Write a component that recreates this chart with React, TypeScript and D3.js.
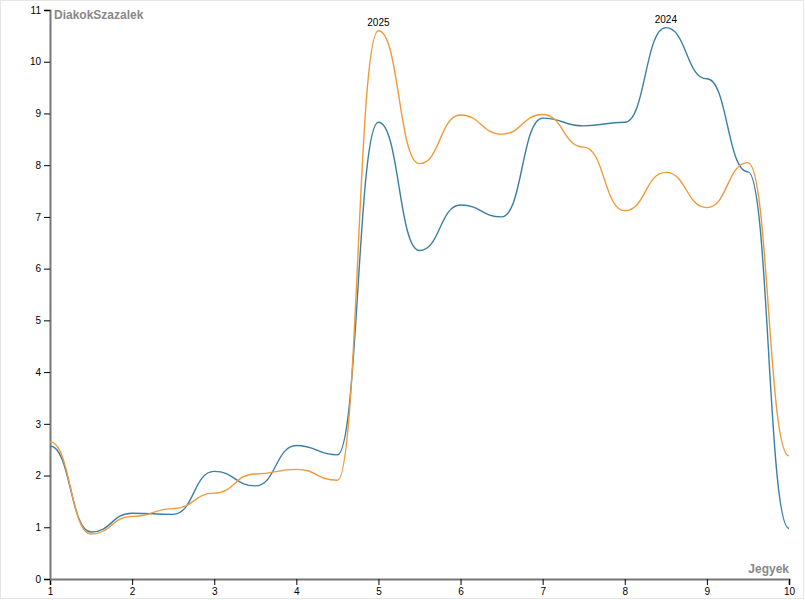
import React, { useEffect, useRef } from "react";
import * as d3 from "d3";

const grades = [1, 1.5, 2, 2.5, 3, 3.5, 4, 4.5, 5, 5.5, 6, 6.5, 7, 7.5, 8, 8.5, 9, 9.5, 10];
const series2024 = [2.57, 0.91, 1.27, 1.25, 2.08, 1.8, 2.58, 2.4, 8.83, 6.35, 7.23, 7.0, 8.91, 8.76, 8.83, 10.66, 9.67, 7.87, 0.98];
const series2025 = [2.65, 0.87, 1.21, 1.36, 1.66, 2.03, 2.12, 1.91, 10.6, 8.03, 8.97, 8.6, 8.98, 8.35, 7.12, 7.86, 7.18, 8.05, 2.38];
const xTicks = [1, 2, 3, 4, 5, 6, 7, 8, 9, 10];
const yTicks = [0, 1, 2, 3, 4, 5, 6, 7, 8, 9, 10, 11];
const seriesNames = ["2024", "2025"];
const xLabel = "Jegyek";
const yLabel = "DiakokSzazalek";

const W = 805;
const H = 600;
const M = { left: 50, right: 16, top: 10, bottom: 21 };

export default function App() {
  const ref = useRef<SVGSVGElement>(null);
  useEffect(() => {
    const svg = d3.select(ref.current);
    svg.selectAll("*").remove();
    svg.append("rect").attr("x", 0.5).attr("y", 0.5).attr("width", 803).attr("height", 598)
      .attr("fill", "white").attr("stroke", "#e6e6e6");
    const x = d3.scaleLinear().domain([1, 10]).range([M.left, W - M.right]);
    const y = d3.scaleLinear().domain([0, 11]).range([H - M.bottom, M.top]);

    const xa = svg.append("g").attr("transform", `translate(0,${H - M.bottom})`)
      .call(d3.axisBottom(x).tickValues(xTicks).tickSize(6).tickFormat(d3.format("d")));
    const ya = svg.append("g").attr("transform", `translate(${M.left},0)`)
      .call(d3.axisLeft(y).tickValues(yTicks).tickSize(6).tickFormat(d3.format("d")));
    [xa, ya].forEach((a) => {
      a.select(".domain").attr("stroke", "#777").attr("stroke-width", 2);
      a.selectAll(".tick line").attr("stroke", "#000");
      a.selectAll(".tick text").attr("font-family", "Liberation Sans, Arial, sans-serif").attr("font-size", 10).attr("fill", "#000");
    });
    xa.selectAll(".tick text").attr("dy", "0.71em").attr("y", 9);

    const line = d3.line<number>().x((_, i) => x(grades[i])).y((d) => y(d)).curve(d3.curveBumpX);
    const data = [series2024, series2025];
    const colors = ["#3b7fa4", "#f0993a"];
    data.forEach((s, k) => {
      svg.append("path").attr("d", line(s)).attr("fill", "none").attr("stroke", colors[k]).attr("stroke-width", 1.4);
    });
    data.forEach((s, k) => {
      const mi = d3.maxIndex(s);
      svg.append("text").attr("x", x(grades[mi])).attr("y", y(s[mi]) - 5)
        .attr("text-anchor", "middle").attr("font-family", "Liberation Sans, Arial, sans-serif")
        .attr("font-size", 10).attr("fill", "#000").text(seriesNames[k]);
    });
    svg.append("text").attr("x", 54).attr("y", 19).attr("font-family", "Liberation Sans, Arial, sans-serif")
      .attr("font-size", 12).attr("font-weight", "bold").attr("fill", "#888").text(yLabel);
    svg.append("text").attr("x", W - M.right).attr("y", 573).attr("text-anchor", "end")
      .attr("font-family", "Liberation Sans, Arial, sans-serif")
      .attr("font-size", 12).attr("font-weight", "bold").attr("fill", "#888").text(xLabel);
  }, []);
  return (
    <svg ref={ref} width={W} height={H} style={{ position: "absolute", left: 0, top: 0, display: "block" }} />
  );
}
